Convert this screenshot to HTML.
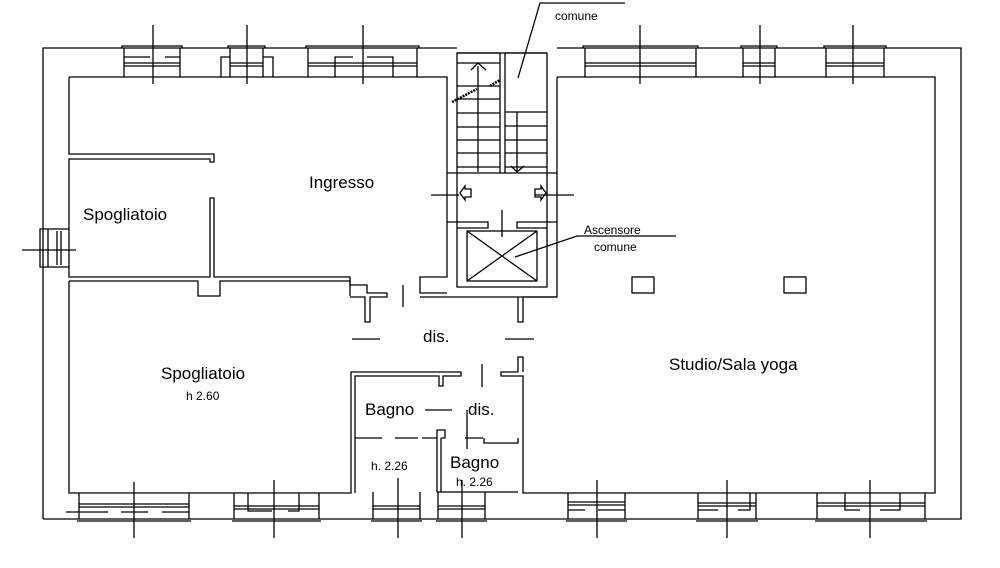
<!DOCTYPE html>
<html><head><meta charset="utf-8"><style>
html,body{margin:0;padding:0;background:#fff;width:1000px;height:568px;overflow:hidden}
svg{display:block}
text{font-family:"Liberation Sans",Arial,sans-serif;fill:#000}
</style></head><body>
<svg width="1000" height="568" viewBox="0 0 1000 568" xmlns="http://www.w3.org/2000/svg">
<g fill="none" stroke="#000" stroke-width="1.3">
<!-- outer walls -->
<path d="M43 519 V48 H457 M557 48 H961 V519 H43"/>
<!-- inner left -->
<path d="M69 77 H447 V277 H420 V293 H447 M69 77 V154 H214 V162 H210 V159 H69 V277 H210 V198 H214 V277 H350 V285 H367 V293 H387 V297 H370 V322 H365 V297 H350"/>
<path d="M69 281 H198 V296 H220 V281 H350 V296"/>
<path d="M69 281 V493 H351 V372 H461 V376 H443 V386 H439 V376 H355 V493"/>
<!-- right room -->
<path d="M557 77 H935 V493 H523 V376 H501 V372 H518 V357 H523 V372"/>
<path d="M557 77 V297 H420 M547 53 V287 H457 V53 Z"/>
<path d="M557 297 H523 M518 297 V322 H523 V297"/>
<!-- stairs -->
<path d="M457 53 H500 V173 M505 173 V53 H547"/>
<path d="M457 173 H547 M457 222 H488 V228 H457 M547 222 H517 V228 H547"/>
<path d="M457 63 H500 M457 86 H500 M457 99 H500 M457 113 H500 M457 127 H500 M457 140 H500 M457 153 H500 M457 167 H500"/>
<path d="M505 112 H547 M505 126 H547 M505 140 H547 M505 153 H547 M505 167 H547"/>
<path d="M478 172 V66 M471 70 L478 63 L486 70 M517 112 V171 M511 166 L517 172 L524 166"/>
<path d="M452 102 L477 89 M490 86 L500 80" stroke-width="2.5" stroke-dasharray="2 1"/>
<path d="M447 173 H457 M447 222 H457 M547 173 H557 M547 222 H557"/>
<path d="M431 195 H459 M535 195 H574 M502 210 V237"/>
<path d="M465 186 L460 193 L465 200 V197 H471 V189 H465 Z M541 186 L546 193 L541 200 V197 H535 V189 H541 Z"/>
<!-- elevator -->
<rect x="467" y="231" width="70" height="50"/>
<path d="M467 231 L537 281 M537 231 L467 281"/>
<path d="M515 257 L577 236 H676"/>
<path d="M518 78 L540 3 H625"/>
<!-- dis -->
<path d="M403 285 V307 M352 339 H380 M505 339 H534 M482 364 V387"/>
<!-- bagno -->
<path d="M355 438 H382 M395 438 H418 M422 438 H437 V492 M437 438 V430 H445 V438 H441 M441 438 V492 M465 438 H483 M484 438 V443 H518 V438" />
<path d="M425 410 H452 M467 410 V449" />
<path d="M437 492 H518"/>
<!-- pillars -->
<rect x="632" y="277" width="22" height="16"/>
<rect x="784" y="277" width="22" height="16"/>
<!-- left window -->
<path d="M69 229 H40 V267 H69 M48 229 V267 M57 231 V265 M61 231 V265 M22 250 H76"/>
<!-- top windows -->
<path d="M122 48 V46 H182 V48 M124 48 V77 M180 48 V77 M124 63 H180 M124 66 H180 M124 57 H150 M165 57 H180 M153 25 V84"/>
<path d="M228 48 V46 H265 V48 M221 77 V57 H230 M230 48 V77 M263 48 V77 M263 57 H273 V77 M230 63 H263 M230 66 H263 M247 25 V84"/>
<path d="M306 48 V46 H419 V48 M308 48 V77 M417 48 V77 M308 63 H417 M308 66 H417 M335 77 V57 H353 M367 57 H393 V77 M363 25 V84"/>
<path d="M583 48 V46 H698 V48 M585 48 V77 M696 48 V77 M585 63 H696 M585 66 H696 M640 25 V84"/>
<path d="M741 48 V46 H777 V48 M743 48 V77 M775 48 V77 M743 63 H775 M743 66 H775 M760 25 V84"/>
<path d="M824 48 V46 H886 V48 M826 48 V77 M884 48 V77 M826 63 H884 M826 66 H884 M853 25 V84"/>
<!-- bottom windows -->
<path d="M79 493 V519 M77 521 H191 M189 493 V519 M79 504 H189 M79 507 H189 M66 512 H108 M121 512 H148 M162 512 H189 M134 482 V538"/>
<path d="M234 493 V519 M232 521 H321 M319 493 V519 M234 506 H319 M234 509 H319 M248 493 V511 H272 M288 511 H299 V493 M274 480 V538"/>
<path d="M373 492 V519 M371 521 H422 M420 492 V519 M373 506 H420 M373 509 H420 M398 478 V538"/>
<path d="M438 492 V519 M436 521 H487 M485 492 V519 M438 506 H485 M438 509 H485 M462 480 V538"/>
<path d="M568 493 V519 M566 521 H627 M625 493 V519 M568 502 H625 M568 505 H625 M568 510 H585 M598 510 H625 M597 480 V538"/>
<path d="M698 493 V519 M696 521 H758 M756 493 V519 M698 503 H756 M698 506 H756 M698 510 H718 M738 510 H750 V493 M727 480 V538"/>
<path d="M817 493 V519 M815 521 H927 M925 493 V519 M817 503 H925 M817 506 H925 M845 493 V510 H860 M880 510 H900 V493 M870 480 V538"/>
</g>
<g font-size="17">
<text x="309" y="188">Ingresso</text>
<text x="83" y="220">Spogliatoio</text>
<text x="161" y="379">Spogliatoio</text>
<text x="423" y="342">dis.</text>
<text x="669" y="370">Studio/Sala yoga</text>
<text x="365" y="415">Bagno</text>
<text x="468" y="415">dis.</text>
<text x="450" y="468">Bagno</text>
</g>
<g font-size="12">
<text x="186" y="400">h 2.60</text>
<text x="371" y="470">h. 2.26</text>
<text x="456" y="486">h. 2.26</text>
<text x="555" y="20">comune</text>
<text x="584" y="234">Ascensore</text>
<text x="594" y="251">comune</text>
</g>
</svg>
</body></html>
